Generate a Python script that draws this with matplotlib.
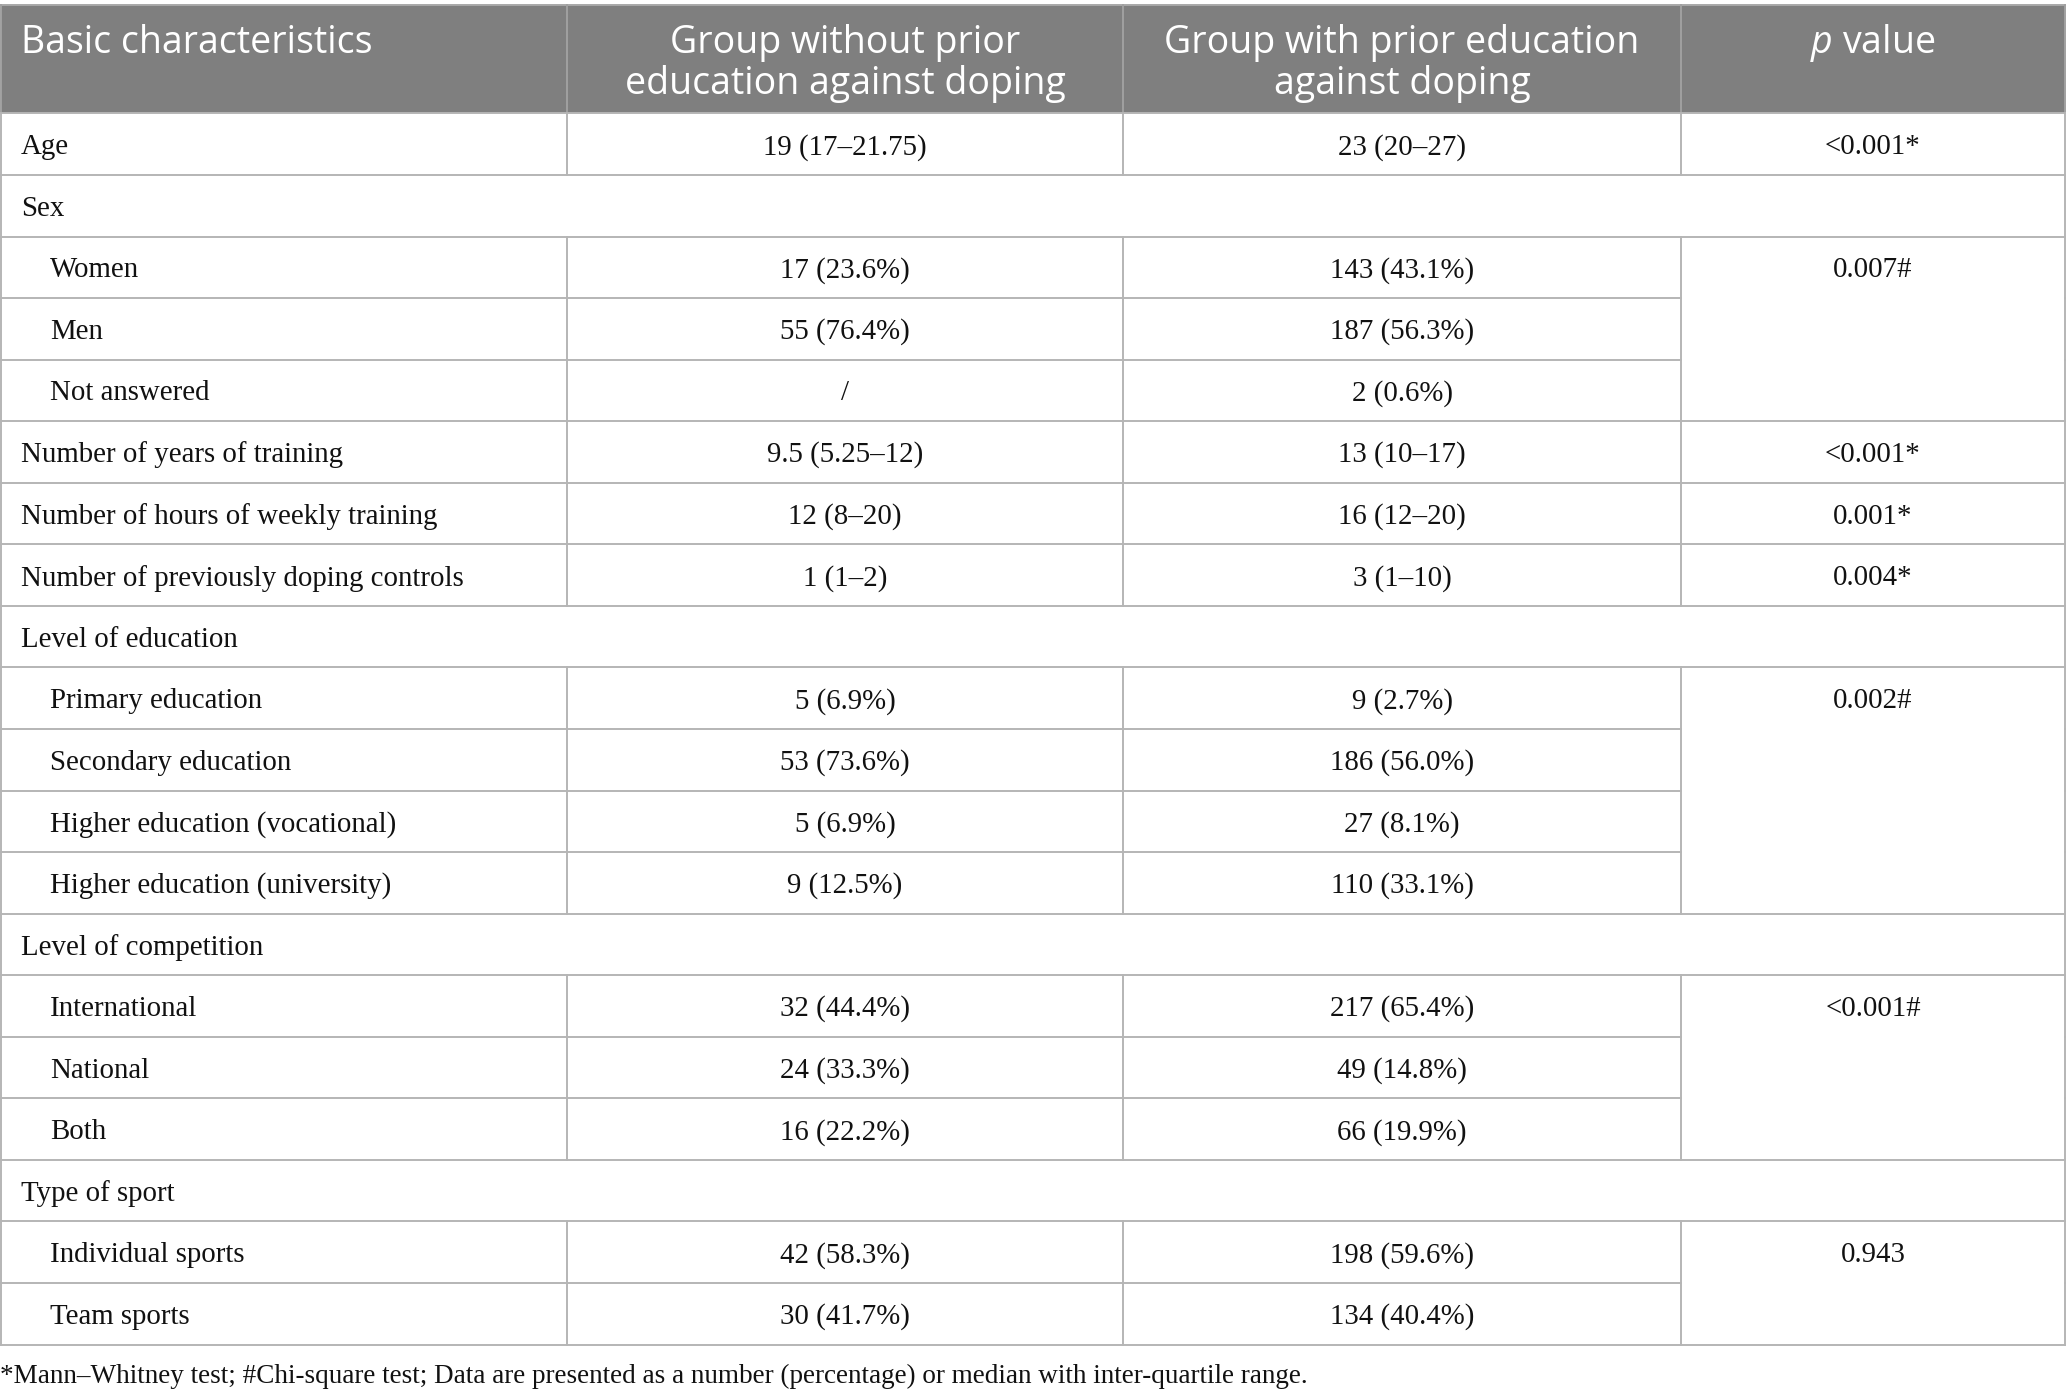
import matplotlib.pyplot as plt

plt.rcParams["mathtext.fontset"] = "custom"
plt.rcParams["mathtext.rm"] = "Open Sans"
plt.rcParams["mathtext.it"] = "Open Sans:italic"

# Table content
header = [
    "Basic characteristics",
    "Group without prior\neducation against doping",
    "Group with prior education\nagainst doping",
    "$p$ value",
]
row_kind = [
    "main", "section", "sub", "sub", "sub", "main", "main", "main",
    "section", "sub", "sub", "sub", "sub",
    "section", "sub", "sub", "sub",
    "section", "sub", "sub",
]
row_labels = [
    "Age", "Sex", "Women", "Men", "Not answered",
    "Number of years of training", "Number of hours of weekly training",
    "Number of previously doping controls",
    "Level of education", "Primary education", "Secondary education",
    "Higher education (vocational)", "Higher education (university)",
    "Level of competition", "International", "National", "Both",
    "Type of sport", "Individual sports", "Team sports",
]
without_edu = [
    "19 (17–21.75)", None, "17 (23.6%)", "55 (76.4%)", "/",
    "9.5 (5.25–12)", "12 (8–20)", "1 (1–2)",
    None, "5 (6.9%)", "53 (73.6%)", "5 (6.9%)", "9 (12.5%)",
    None, "32 (44.4%)", "24 (33.3%)", "16 (22.2%)",
    None, "42 (58.3%)", "30 (41.7%)",
]
with_edu = [
    "23 (20–27)", None, "143 (43.1%)", "187 (56.3%)", "2 (0.6%)",
    "13 (10–17)", "16 (12–20)", "3 (1–10)",
    None, "9 (2.7%)", "186 (56.0%)", "27 (8.1%)", "110 (33.1%)",
    None, "217 (65.4%)", "49 (14.8%)", "66 (19.9%)",
    None, "198 (59.6%)", "134 (40.4%)",
]
# "" = merged with the p value cell above
p_values = [
    "<0.001*", None, "0.007#", "", "",
    "<0.001*", "0.001*", "0.004*",
    None, "0.002#", "", "", "",
    None, "<0.001#", "", "",
    None, "0.943", "",
]
footnote = ("*Mann–Whitney test; #Chi-square test; Data are presented as a number "
            "(percentage) or median with inter-quartile range.")

W, H = 2067, 1399
col_x = [1, 567, 1123, 1681, 2065]
top, head_bot, bottom = 5, 113.4, 1344.5
n = len(row_labels)
row_h = (bottom - head_bot) / n
line_c = "#b5b5b5"
lw = 1.4
serif = "Liberation Serif"
sans = "Open Sans"
fs_body = 20.8
fs_head = 27
txt_c = "#111111"

fig = plt.figure(figsize=(W / 100, H / 100), dpi=100)
ax = fig.add_axes([0, 0, 1, 1])
ax.set_xlim(0, W)
ax.set_ylim(H, 0)
ax.axis("off")

# header
ax.add_patch(plt.Rectangle((col_x[0], top), col_x[-1] - col_x[0], head_bot - top,
                           facecolor="#7f7f7f", edgecolor="none"))
ax.plot([col_x[0], col_x[-1]], [top, top], color="#a8a8a8", lw=lw)
for x in col_x:
    ax.plot([x, x], [top, head_bot], color="#a0a0a0", lw=lw)

hy = top + 38
ax.text(21, hy, header[0], color="white", fontsize=fs_head, family=sans,
        ha="left", va="center")
for j in (1, 2):
    for k, t in enumerate(header[j].split("\n")):
        ax.text((col_x[j] + col_x[j + 1]) / 2, hy + k * 41, t, color="white",
                fontsize=fs_head, family=sans, ha="center", va="center")
ax.text((col_x[3] + col_x[4]) / 2, hy, header[3], color="white", fontsize=fs_head,
        family=sans, ha="center", va="center")

# body
for i in range(n):
    y0 = head_bot + i * row_h
    y1 = y0 + row_h
    yc = (y0 + y1) / 2 + 3
    kind = row_kind[i]
    # bottom line of row: stops at the p column if the next p cell is merged
    nxt_merged = i + 1 < n and p_values[i + 1] == ""
    x_end = col_x[3] if nxt_merged else col_x[4]
    ax.plot([col_x[0], x_end], [y1, y1], color=line_c, lw=lw)
    if i == 0:
        ax.plot([col_x[0], col_x[4]], [y0, y0], color=line_c, lw=lw)
    ax.plot([col_x[0], col_x[0]], [y0, y1], color=line_c, lw=lw)
    ax.plot([col_x[4], col_x[4]], [y0, y1], color=line_c, lw=lw)

    indent = 50 if kind == "sub" else 21
    ax.text(indent, yc, row_labels[i], fontsize=fs_body, family=serif,
            ha="left", va="center", color=txt_c)
    if kind == "section":
        continue
    for x in col_x[1:4]:
        ax.plot([x, x], [y0, y1], color=line_c, lw=lw)
    ax.text((col_x[1] + col_x[2]) / 2, yc, without_edu[i], fontsize=fs_body,
            family=serif, ha="center", va="center", color=txt_c)
    ax.text((col_x[2] + col_x[3]) / 2, yc, with_edu[i], fontsize=fs_body,
            family=serif, ha="center", va="center", color=txt_c)
    if p_values[i]:
        ax.text((col_x[3] + col_x[4]) / 2, yc, p_values[i], fontsize=fs_body,
                family=serif, ha="center", va="center", color=txt_c)

ax.text(0, 1376, footnote, fontsize=19.5, family=serif, ha="left", va="center",
        color=txt_c)

fig.savefig("out.png", dpi=100)
